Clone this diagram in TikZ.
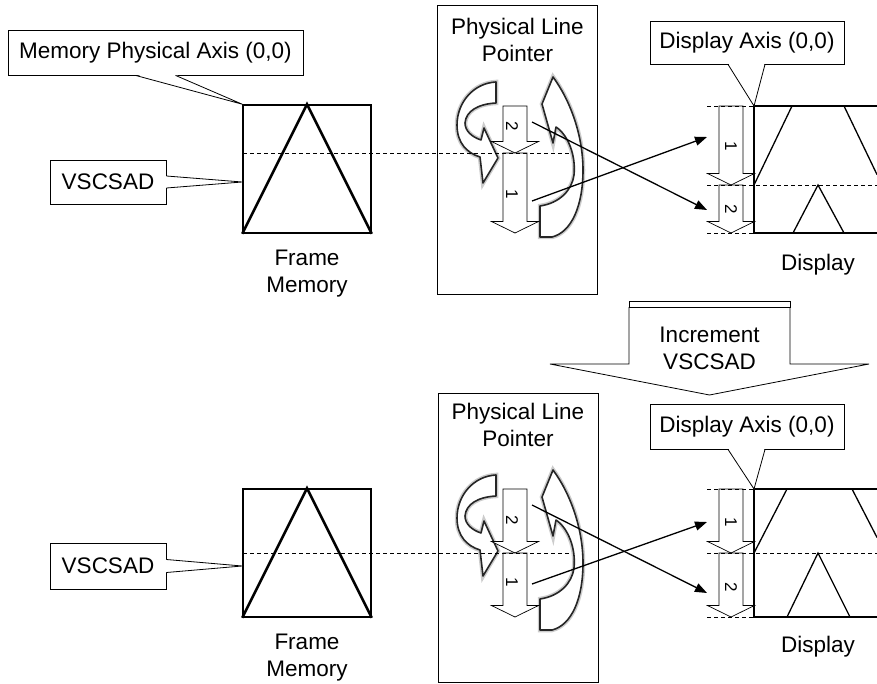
\documentclass[tikz,border=0pt]{standalone}
\usepackage{fontspec}
\setmainfont{Liberation Sans}
\usetikzlibrary{arrows.meta}
\usetikzlibrary{positioning}

\newcommand{\blockdown}[3]{\draw[blk] (#1-12,#2) -- (#1+12,#2) -- (#1+12,#3-11.5) -- (#1+23.5,#3-11.5) -- (#1,#3) -- (#1-23.5,#3-11.5) -- (#1-12,#3-11.5) -- cycle;}
\newcommand{\curlpair}{%
  \draw[curl] (496,82) .. controls (474,83) and (457,102) .. (457,125) .. controls (457,143) and (467,153) .. (480,157) -- (483,183) -- (498,158) -- (484,128) -- (481,140) .. controls (472,137) and (465,131) .. (465,123) .. controls (466,111) and (478,104) .. (496,103) -- cycle;
  \draw[curl] (553,77) .. controls (570,100) and (583,135) .. (583,170) .. controls (583,205) and (572,232) .. (552,237) -- (540,237) -- (540,206) .. controls (560,203) and (572,190) .. (574,175) .. controls (576,155) and (568,135) .. (556,127) -- (553,143) -- (542,104) -- cycle;}

\begin{document}
\begin{tikzpicture}[x=1pt,y=-1pt]
        \tikzset{every node/.style={font=\fontsize{22.5}{27}\selectfont, align=center, inner sep=0pt},
                >={Triangle[length=12pt,width=9pt]},
                callbox/.style={draw, line width=0.8pt, fill=white},
                fmbox/.style={draw, line width=1.6pt, minimum size=128},
                tri/.style={line width=2.6pt},
                pbox/.style={draw, line width=0.8pt, minimum width=160, minimum height=289},
                num/.style={rotate=-90, font=\fontsize{17}{17}\selectfont},
                blk/.style={draw, fill=white, line width=0.7pt},
                curl/.style={draw=black!85, fill=white, line width=1.6pt, line join=round, preaction={draw=black!20, line width=4.5pt}},
                ptr/.style={->, line width=1.3pt},
                dashline/.style={dash pattern=on 4pt off 3pt, line width=0.8pt},
                dline/.style={line width=1.5pt},
                thin/.style={line width=0.8pt}}
        \useasboundingbox (0,0) rectangle (877,684);

        % top: before increment
        \node[fmbox] (fm1) at (307,169) {};
        \draw[tri] (fm1.south west) -- (fm1.north) -- (fm1.south east);
        \node (fmt1) [below=16pt of fm1.south] {Frame\\Memory};
        \node[callbox, minimum width=295, minimum height=45] (mpa) at (155.5,52.5) {Memory Physical Axis (0,0)};
        \fill[white] ([xshift=-19.5pt,yshift=0.8pt]mpa.south) -- ([xshift=19.5pt,yshift=0.8pt]mpa.south) -- (fm1.north west) -- cycle;
        \draw[thin] ([xshift=-20pt]mpa.south) -- (fm1.north west) -- ([xshift=20pt]mpa.south);
        \node[callbox, minimum width=116, minimum height=44] (vs1) at (108,182) {VSCSAD};
        \coordinate (vt1) at ([yshift=-13pt]fm1.west);
        \fill[white] ([xshift=-0.8pt,yshift=6pt]vs1.east) -- ([xshift=-0.8pt,yshift=-6pt]vs1.east) -- (vt1) -- cycle;
        \draw[thin] ([yshift=6pt]vs1.east) -- (vt1) -- ([yshift=-6pt]vs1.east);

        \node[pbox] (plp1) at (517.5,149.5) {};
        \node (plpt1) [below=13pt of plp1.north] {Physical Line\\Pointer};
        \curlpair
        \blockdown{515}{106}{153}
        \blockdown{515}{153}{233}
        \node[num] (p2) at (512,126) {2};
        \node[num] (p1) at (512,194) {1};
        \draw[dashline] (243,153) -- (570,153);

        \coordinate (dsp1) at (754,106);
        \draw[dline] (877,106) -- (dsp1) -- (754,233) -- (877,233);
        \draw[line width=1.3pt] (754,185) -- (792,106) (844,106) -- (877,174.6);
        \draw[line width=1.3pt] (793,233) -- (818,185) -- (844,233);
        \blockdown{731}{106}{185}
        \blockdown{731}{185}{233}
        \node[num] (d1) at (731,146) {1};
        \node[num] (d2) at (731,209) {2};
        \draw[dashline] (707,106) -- (754,106) (707,185) -- (877,185) (707,233) -- (754,233);
        \node[callbox, minimum width=194, minimum height=43] (dax1) at (747,42.5) {Display Axis (0,0)};
        \fill[white] ([xshift=-18.5pt,yshift=0.8pt]dax1.south) -- ([xshift=17.5pt,yshift=0.8pt]dax1.south) -- (dsp1) -- cycle;
        \draw[thin] ([xshift=-19pt]dax1.south) -- (dsp1) -- ([xshift=18pt]dax1.south);
        \node (dt1) at (818,265) {Display};

        \coordinate (p2o) at (532,122);
        \coordinate (p1o) at (532,201);
        \coordinate (d2i) at (707,210);
        \coordinate (d1i) at (707,137);
        \path [ptr] (p2o) edge (d2i);
        \path [ptr] (p1o) edge (d1i);

        % increment arrow
        \node (inc) at (709.5,348) {Increment\\VSCSAD};
        \draw[thin] (629,301) rectangle (790,307);
        \draw[thin] (629,307) -- (629,364) -- (550,364) -- (709.5,395) -- (869,364) -- (790,364) -- (790,307);

        % bottom: after increment
        \node[fmbox] (fm2) at (307,553) {};
        \draw[tri] (fm2.south west) -- (fm2.north) -- (fm2.south east);
        \node (fmt2) [below=16pt of fm2.south] {Frame\\Memory};
        \node[callbox, minimum width=116, minimum height=46] (vs2) at (108,566) {VSCSAD};
        \coordinate (vt2) at ([yshift=-13pt]fm2.west);
        \fill[white] ([xshift=-0.8pt,yshift=6.5pt]vs2.east) -- ([xshift=-0.8pt,yshift=-6.5pt]vs2.east) -- (vt2) -- cycle;
        \draw[thin] ([yshift=6.5pt]vs2.east) -- (vt2) -- ([yshift=-6.5pt]vs2.east);

        \node[pbox] (plp2) at (518,537.5) {};
        \node (plpt2) [below=10pt of plp2.north] {Physical Line\\Pointer};
        \begin{scope}[shift={(0,393)}]
        \curlpair
        \end{scope}
        \blockdown{515}{489}{553}
        \blockdown{515}{553}{617}
        \node[num] (p2b) at (512,520) {2};
        \node[num] (p1b) at (512,582) {1};
        \draw[dashline] (243,553) -- (570,553);

        \coordinate (dsp2) at (754,489);
        \draw[dline] (877,489) -- (dsp2) -- (754,617) -- (877,617);
        \draw[line width=1.3pt] (754,553) -- (787,489) (852,489) -- (877,537.5);
        \draw[line width=1.3pt] (787,617) -- (818,553) -- (850,617);
        \blockdown{731}{489}{553}
        \blockdown{731}{553}{617}
        \node[num] (d1b) at (731,522) {1};
        \node[num] (d2b) at (731,587) {2};
        \draw[dashline] (707,489) -- (754,489) (707,553) -- (877,553) (707,617) -- (754,617);
        \node[callbox, minimum width=194, minimum height=45] (dax2) at (747,426.5) {Display Axis (0,0)};
        \fill[white] ([xshift=-18.5pt,yshift=0.8pt]dax2.south) -- ([xshift=17.5pt,yshift=0.8pt]dax2.south) -- (dsp2) -- cycle;
        \draw[thin] ([xshift=-19pt]dax2.south) -- (dsp2) -- ([xshift=18pt]dax2.south);
        \node (dt2) at (818,647) {Display};

        \coordinate (p2ob) at (532,505);
        \coordinate (p1ob) at (532,584);
        \coordinate (d2ib) at (707,593);
        \coordinate (d1ib) at (707,522);
        \path [ptr] (p2ob) edge (d2ib);
        \path [ptr] (p1ob) edge (d1ib);

    \end{tikzpicture}
\end{document}
